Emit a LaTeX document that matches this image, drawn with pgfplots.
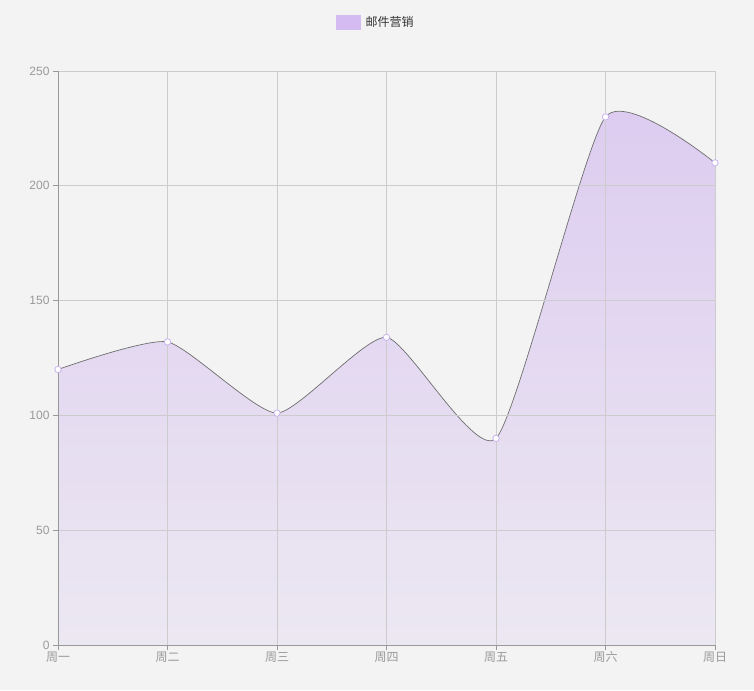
\documentclass[border=0pt]{standalone}
\usepackage{pgfplots}
\pgfplotsset{compat=1.18}
\usepackage{fontspec}
\setmainfont{Liberation Sans}
\newfontfamily\cjk{Noto Sans CJK SC}
\definecolor{bg}{HTML}{F3F3F3}
\definecolor{gridc}{HTML}{CCCCCC}
\definecolor{axc}{HTML}{999999}
\definecolor{tickc}{HTML}{999999}
\definecolor{topc}{HTML}{DCCBF0}
\definecolor{botc}{HTML}{ECE8F2}
\definecolor{legc}{HTML}{D4BCF2}
\definecolor{linec}{HTML}{6E6E6E}
\definecolor{markc}{HTML}{C9B3EE}
\begin{document}
\begin{tikzpicture}
\fill[bg] (-58pt,-45pt) rectangle (696pt,645pt);
\begin{axis}[
  at={(0pt,0pt)}, anchor=south west,
  scale only axis, width=657pt, height=574pt,
  xmin=0, xmax=6, ymin=0, ymax=250,
  xtick={0,1,2,3,4,5,6},
  xticklabels={周一,周二,周三,周四,周五,周六,周日},
  ytick={0,50,100,150,200,250},
  axis lines=left,
  axis line style={draw=axc, line width=0.8pt, -},
  grid=major,
  grid style={draw=gridc, line width=0.8pt},
  tick align=outside,
  major tick length=5pt,
  tick style={draw=axc, line width=0.8pt},
  ticklabel style={font=\fontsize{12}{14}\selectfont, text=tickc},
  xticklabel style={font=\cjk\fontsize{12}{14}\selectfont, text=tickc, yshift=2pt},
  /pgf/number format/assume math mode=true,
  axis on top,
  legend style={at={(axis description cs:0.484,1)}, anchor=center, yshift=49pt,
    draw=none, fill=none, font=\cjk\fontsize{12}{14}\selectfont, text=black!80,
    legend cell align=left,
    /tikz/every even column/.append style={column sep=0pt}},
]
\addlegendimage{legend image code/.code={\fill[legc] (0pt,-7pt) rectangle (24pt,7pt);}}
\addlegendentry{\hspace{3pt}邮件营销}
\addplot[forget plot, draw=none, shading=axis, top color=topc, bottom color=botc,
  smooth, tension=0.34]
  coordinates {(0,120) (1,132) (2,101) (3,134) (4,90) (5,230) (6,210)} \closedcycle;
\addplot[forget plot, draw=linec, line width=0.7pt, smooth, tension=0.34, no marks]
  coordinates {(0,120) (1,132) (2,101) (3,134) (4,90) (5,230) (6,210)};
\addplot[forget plot, only marks, mark=*, mark size=3.2pt,
  mark options={fill=white, draw=markc, line width=0.8pt}]
  coordinates {(0,120) (1,132) (2,101) (3,134) (4,90) (5,230) (6,210)};
\end{axis}
\end{tikzpicture}
\end{document}
